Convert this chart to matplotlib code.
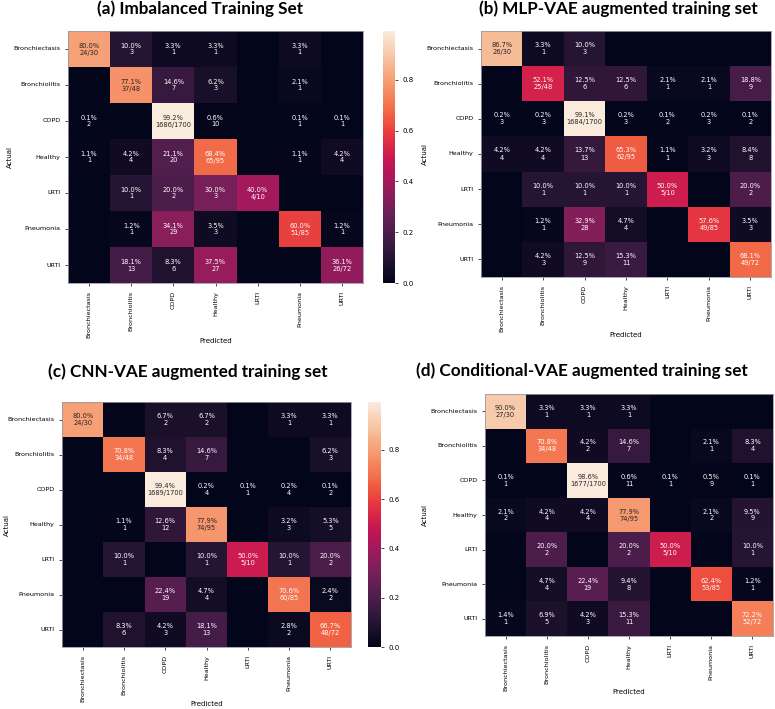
import numpy as np
import matplotlib
matplotlib.use("Agg")
import matplotlib.pyplot as plt
import seaborn as sns

classes = ["Bronchiectasis", "Bronchiolitis", "COPD", "Healthy", "LRTI", "Pneumonia", "URTI"]

# confusion matrices (rows = actual, cols = predicted), counts
cm_imbalanced = [
    [24, 3, 1, 1, 0, 1, 0],
    [0, 37, 7, 3, 0, 1, 0],
    [2, 0, 1686, 10, 0, 1, 1],
    [1, 4, 20, 65, 0, 1, 4],
    [0, 1, 2, 3, 4, 0, 0],
    [0, 1, 29, 3, 0, 51, 1],
    [0, 13, 6, 27, 0, 0, 26],
]
cm_mlp_vae = [
    [26, 1, 3, 0, 0, 0, 0],
    [0, 25, 6, 6, 1, 1, 9],
    [3, 3, 1684, 3, 2, 3, 2],
    [4, 4, 13, 62, 1, 3, 8],
    [0, 1, 1, 1, 5, 0, 2],
    [0, 1, 28, 4, 0, 49, 3],
    [0, 3, 9, 11, 0, 0, 49],
]
cm_cnn_vae = [
    [24, 0, 2, 2, 0, 1, 1],
    [0, 34, 4, 7, 0, 0, 3],
    [0, 0, 1689, 4, 1, 4, 2],
    [0, 1, 12, 74, 0, 3, 5],
    [0, 1, 0, 1, 5, 1, 2],
    [0, 0, 19, 4, 0, 60, 2],
    [0, 6, 3, 13, 0, 2, 48],
]
cm_cond_vae = [
    [27, 1, 1, 1, 0, 0, 0],
    [0, 34, 2, 7, 0, 1, 4],
    [1, 0, 1677, 11, 1, 9, 1],
    [2, 4, 4, 74, 0, 2, 9],
    [0, 2, 0, 2, 5, 0, 1],
    [0, 4, 19, 8, 0, 53, 1],
    [1, 5, 3, 11, 0, 0, 52],
]

titles = ["(a) Imbalanced Training Set", "(b) MLP-VAE augmented training set",
          "(c) CNN-VAE augmented training set", "(d) Conditional-VAE augmented training set"]

W, H = 775, 709
fig = plt.figure(figsize=(W / 100, H / 100), dpi=100)


def box(x0, y0, x1, y1):
    # pixel box -> figure fraction
    return [x0 / W, 1 - y1 / H, (x1 - x0) / W, (y1 - y0) / H]


def draw(ax, cm, cax, ylab_x, xlab_y):
    cm = np.array(cm)
    totals = cm.sum(axis=1)
    frac = cm / totals[:, None]
    annot = np.empty(cm.shape, dtype=object)
    for i in range(cm.shape[0]):
        for j in range(cm.shape[1]):
            if cm[i, j] == 0:
                annot[i, j] = ""
            elif i == j:
                annot[i, j] = f"{frac[i, j]:.1%}\n{cm[i, j]}/{totals[i]}"
            else:
                annot[i, j] = f"{frac[i, j]:.1%}\n{cm[i, j]}"
    sns.heatmap(frac, annot=annot, fmt="", ax=ax, cbar=cax is not None, cbar_ax=cax,
                xticklabels=classes, yticklabels=classes,
                annot_kws={"fontsize": 4.8})
    ax.set_xlabel("Predicted", fontsize=5)
    ax.set_ylabel("Actual", fontsize=5)
    ax.tick_params(labelsize=4.6, length=2, width=0.5)
    plt.setp(ax.get_xticklabels(), rotation=90)
    plt.setp(ax.get_yticklabels(), rotation=0)
    for s in ax.spines.values():
        s.set_visible(True)
        s.set_color("#9a9aa8")
        s.set_linewidth(0.6)
    # label positions in pixels
    bb = ax.get_position()
    ax.yaxis.set_label_coords(ylab_x / W, (bb.y0 + bb.y1) / 2, transform=fig.transFigure)
    ax.xaxis.set_label_coords((bb.x0 + bb.x1) / 2, 1 - xlab_y / H, transform=fig.transFigure)
    if cax is not None:
        cax.tick_params(labelsize=5, length=2, width=0.5)
        cax.set_yticks([0.0, 0.2, 0.4, 0.6, 0.8])


ax_a = fig.add_axes(box(68, 31, 363, 283))
cax_a = fig.add_axes(box(383, 31, 395, 283))
draw(ax_a, cm_imbalanced, cax_a, 13, 338)

ax_b = fig.add_axes(box(481, 31, 771, 277))
draw(ax_b, cm_mlp_vae, None, 428, 332)

ax_c = fig.add_axes(box(62, 402, 351, 647))
cax_c = fig.add_axes(box(368, 402, 381, 647))
draw(ax_c, cm_cnn_vae, cax_c, 10, 701)

ax_d = fig.add_axes(box(485, 394, 773, 636))
draw(ax_d, cm_cond_vae, None, 428, 689)

title_pos = [(200, 9), (618, 9), (188, 372), (582, 371)]
for t, (x, y) in zip(titles, title_pos):
    fig.text(x / W, 1 - y / H, t, ha="center", va="center",
             fontsize=12.3, fontweight="bold", family=["Lato", "DejaVu Sans"])

fig.savefig("out.png", dpi=100)
